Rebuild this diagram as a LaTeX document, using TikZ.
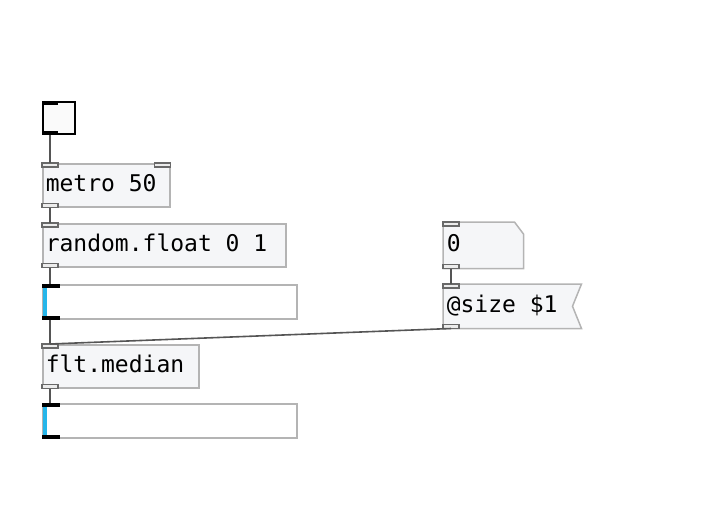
\documentclass[tikz,border=0pt]{standalone}
\usepackage{fontspec}
\newfontfamily\pdfont{DejaVu Sans Mono}
\usepackage{xcolor}
\usepackage{tikz}
\usetikzlibrary{arrows.meta}
\pgfdeclarelayer{bg}
\pgfsetlayers{bg,main}
\definecolor{boxfill}{RGB}{245,246,248}
\definecolor{boxline}{RGB}{180,180,180}
\definecolor{portline}{RGB}{105,105,105}
\definecolor{portfill}{RGB}{236,236,236}
\definecolor{wire}{RGB}{85,85,85}
\definecolor{listbar}{RGB}{38,182,234}
\newcommand{\pdtext}{\pdfont\fontsize{23}{27}\selectfont}
\newcommand{\pdsp}{\hspace*{13.85pt}}
\tikzset{
	pdobj/.style={draw=boxline, fill=boxfill, line width=1.5pt, anchor=north west, inner xsep=3pt, inner ysep=0pt, minimum height=43pt, text height=17pt, text depth=4pt, align=left, text width=#1, font=\pdtext},
	pdatom/.style={pdobj=#1, draw=none, fill=none},
	pdlist/.style={draw=boxline, fill=white, line width=1.5pt, anchor=north west, inner sep=0pt, minimum width=254pt, minimum height=34pt},
	port/.style={draw=portline, fill=portfill, line width=1.2pt},
	iemport/.style={fill=black},
	wire/.style={draw=wire, line width=1.6pt}
}

\begin{document}
\begin{tikzpicture}[x=1pt, y=-1pt]
	\useasboundingbox (0,0) rectangle (713,507);
	\node[draw=black, fill=black!2, line width=2pt, anchor=north west, minimum size=32pt, inner sep=0pt](tog) at (42,101){};
	\node[pdobj=121pt](metro) at (42,163){metro\pdsp 50};
	\node[pdobj=237pt](rand) at (42,223){random.float\pdsp 0\pdsp 1};
	\node[pdlist](list1) at (42,284){};
	\node[pdobj=150pt](flt) at (42,344){flt.median};
	\node[pdlist](list2) at (42,403){};
	\node[pdatom=73pt, minimum height=45pt](num) at (443,222){0};
	\node[pdatom=131pt](msg) at (443,284){@size\pdsp\$1};
	\begin{pgfonlayer}{bg}
		\draw[draw=boxline, fill=boxfill, line width=1.5pt] (num.north west) -- ([xshift=-9pt]num.north east) -- ([yshift=-12pt]num.north east) -- (num.south east) -- (num.south west) -- cycle;
		\draw[draw=boxline, fill=boxfill, line width=1.5pt] (msg.north west) -- (msg.north east) -- ([xshift=-9pt]msg.east) -- (msg.south east) -- (msg.south west) -- cycle;
	\end{pgfonlayer}
	\foreach \n in {metro, rand, flt, num, msg}
	{
		\draw[port](\n.north west) rectangle ++(16,4);
		\draw[port](\n.south west) rectangle ++(16,-4);
	}
	\draw[port](metro.north east) rectangle ++(-16,4);
	\foreach \n in {list1, list2}
	{
		\fill[listbar]([xshift=1pt]\n.north west) rectangle ([xshift=5pt]\n.south west);
		\fill[iemport](\n.north west) rectangle ++(18,4);
		\fill[iemport](\n.south west) rectangle ++(18,-4);
	}
	\fill[iemport](tog.north west) rectangle ++(16,4);
	\fill[iemport](tog.south west) rectangle ++(16,-4);
	\draw[wire]([xshift=8pt]tog.south west) -- ([xshift=8pt]metro.north west);
	\draw[wire]([xshift=8pt]metro.south west) -- ([xshift=8pt]rand.north west);
	\draw[wire]([xshift=8pt]rand.south west) -- ([xshift=8pt]list1.north west);
	\draw[wire]([xshift=8pt]list1.south west) -- ([xshift=8pt]flt.north west);
	\draw[wire]([xshift=8pt]flt.south west) -- ([xshift=8pt]list2.north west);
	\draw[wire]([xshift=8pt]num.south west) -- ([xshift=8pt]msg.north west);
	\draw[wire]([xshift=8pt]msg.south west) -- ([xshift=8pt]flt.north west);
\end{tikzpicture}
\end{document}
